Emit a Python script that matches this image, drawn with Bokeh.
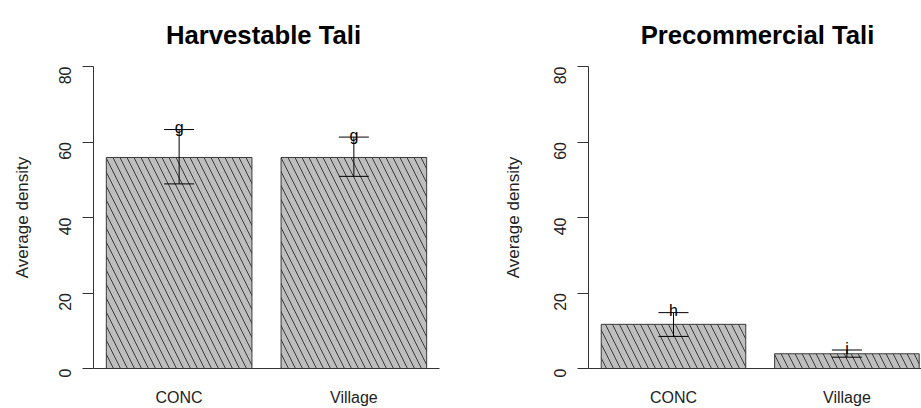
import math
from bokeh.plotting import figure
from bokeh.layouts import row, column
from bokeh.models import ColumnDataSource, Range1d, FixedTicker, Whisker, TeeHead, Label
from bokeh.core.properties import value
from bokeh.embed import file_html
from bokeh.resources import INLINE

# ---- data ----
categories = ["CONC", "Village"]
harvest_mean = [55.9, 55.9]
harvest_upper = [63.3, 61.3]
harvest_lower = [48.9, 50.9]
harvest_letters = ["g", "g"]

precom_mean = [11.7, 3.9]
precom_upper = [14.8, 4.9]
precom_lower = [8.5, 3.0]
precom_letters = ["h", "i"]

y_ticks = [0, 20, 40, 60, 80]
y_max = 80
FONT_NAME = "Liberation Sans"
FONT = value(FONT_NAME)

TITLE_H = 66       # height of the title strip
PLOT_FIG_H = 342   # height of each chart figure
BORDER_BOTTOM = 40


def make_title(text, width, center_x):
    t = figure(width=width, height=TITLE_H, output_backend="svg", toolbar_location=None,
               x_axis_type=None, y_axis_type=None,
               x_range=Range1d(0, 1), y_range=Range1d(0, 1), min_border=0)
    t.outline_line_color = None
    t.grid.visible = False
    t.background_fill_color = "white"
    t.border_fill_color = "white"
    t.add_layout(Label(x=center_x, y=TITLE_H - 34, x_units="screen", y_units="screen",
                       text=text, text_font=FONT_NAME, text_font_size="25.7px",
                       text_font_style="bold", text_color="black",
                       text_align="center", text_baseline="alphabetic"))
    return t


def make_panel(mean, upper, lower, letters, width, border_left, frame_w, x_end, ylabel_standoff):
    xs = [i + 1 for i in range(len(categories))]
    src = ColumnDataSource(dict(x=xs, mean=mean, upper=upper, lower=lower, letter=letters))
    p = figure(width=width, height=PLOT_FIG_H, output_backend="svg", toolbar_location=None,
               x_range=Range1d(0.51, x_end), y_range=Range1d(0, y_max),
               min_border_left=border_left, min_border_right=width - border_left - frame_w,
               min_border_top=0, min_border_bottom=BORDER_BOTTOM)
    p.outline_line_color = None
    p.xgrid.visible = False
    p.ygrid.visible = False
    p.background_fill_color = "white"
    p.border_fill_color = "white"

    p.vbar(x="x", top="mean", bottom=0, width=1 / 1.2, source=src,
           fill_color="#bebebe", line_color="#3a3a3a", line_width=1,
           hatch_pattern="\\", hatch_color="#3a3a3a", hatch_scale=14, hatch_weight=1)

    w = Whisker(base="x", upper="upper", lower="lower", source=src, line_color="black", line_width=1,
                level="overlay",
                upper_head=TeeHead(size=30, line_color="black", line_width=1),
                lower_head=TeeHead(size=30, line_color="black", line_width=1))
    p.add_layout(w)

    p.text(x="x", y="upper", text="letter", source=src, text_align="center", text_baseline="middle",
           text_font=FONT, text_font_size="16px", text_color="black", level="overlay",
           y_offset=-2)

    # y axis
    ya = p.yaxis[0]
    ya.ticker = FixedTicker(ticks=y_ticks)
    ya.minor_tick_line_color = None
    ya.major_tick_out = 11
    ya.major_tick_in = 0
    ya.major_label_orientation = math.pi / 2
    ya.major_label_standoff = 18
    ya.major_label_text_font = FONT_NAME
    ya.major_label_text_font_size = "16px"
    ya.major_label_text_color = "#222222"
    ya.axis_line_color = "#333333"
    ya.major_tick_line_color = "#333333"
    ya.axis_label = "Average density"
    ya.axis_label_text_font = FONT_NAME
    ya.axis_label_text_font_size = "17px"
    ya.axis_label_text_font_style = "normal"
    ya.axis_label_text_color = "#222222"
    ya.axis_label_standoff = ylabel_standoff

    # x axis
    xa = p.xaxis[0]
    xa.ticker = FixedTicker(ticks=xs)
    xa.major_label_overrides = {x: c for x, c in zip(xs, categories)}
    xa.major_tick_line_color = None
    xa.major_tick_out = 0
    xa.major_tick_in = 0
    xa.minor_tick_line_color = None
    xa.axis_line_color = "#333333"
    xa.major_label_standoff = 20
    xa.major_label_text_font = FONT_NAME
    xa.major_label_text_font_size = "16px"
    xa.major_label_text_color = "#222222"
    return p


left_title = make_title("Harvestable Tali", 500, 263)
right_title = make_title("Precommercial Tali", 421, 257)

left = make_panel(harvest_mean, harvest_upper, harvest_lower, harvest_letters,
                  width=500, border_left=93, frame_w=346, x_end=2.49, ylabel_standoff=18)
right = make_panel(precom_mean, precom_upper, precom_lower, precom_letters,
                   width=421, border_left=87, frame_w=334, x_end=2.43, ylabel_standoff=22)

layout = column(row(left_title, right_title), row(left, right))
open("out.html", "w").write(file_html(layout, INLINE))
